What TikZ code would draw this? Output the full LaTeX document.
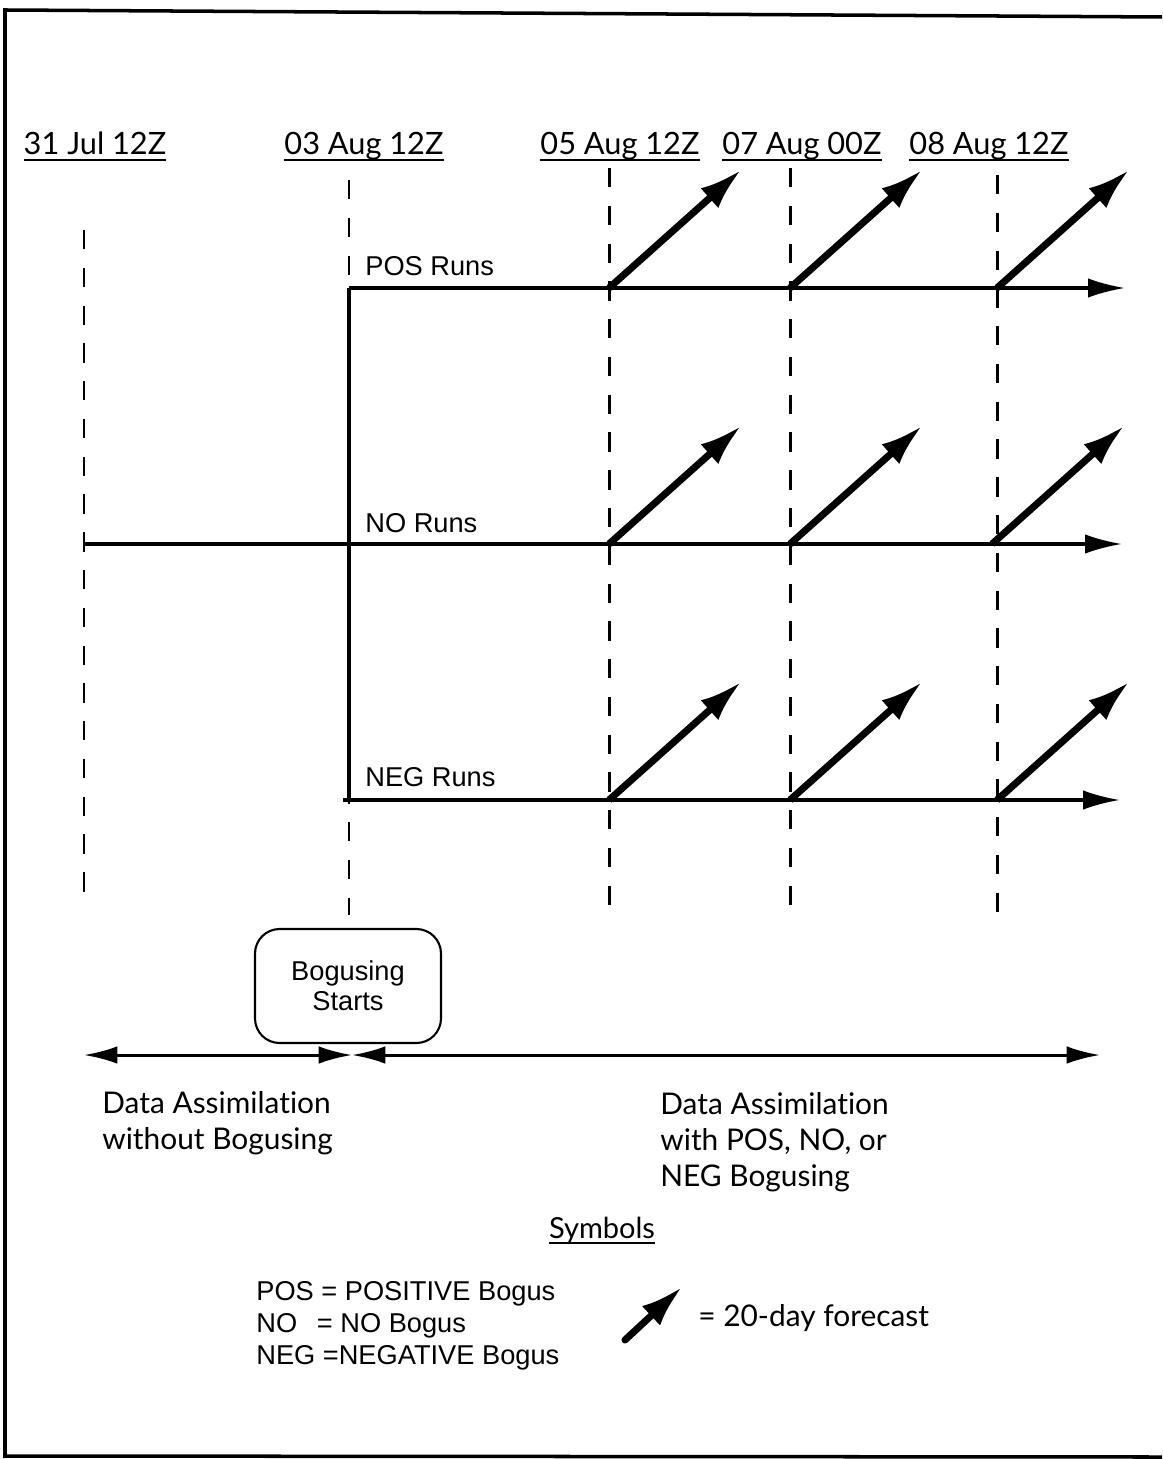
\documentclass[tikz,border=0pt]{standalone}
\usepackage{fontspec}
\setmainfont{Liberation Sans}
\newfontfamily\labfont[Ligatures=NoCommon]{Lato}
\usetikzlibrary{arrows.meta, positioning}

\newsavebox\undlbox
\newcommand{\undl}[1]{\sbox\undlbox{#1}\rlap{\rule[-3.6pt]{\wd\undlbox}{1.5pt}}\usebox\undlbox}

\begin{document}
\begin{tikzpicture}[x=0.02cm, y=-0.02cm,
    run/.style={anchor=base west, inner sep=0pt, font=\fontsize{15.5}{18}\selectfont},
    datelab/.style={anchor=base, inner sep=0pt, font=\labfont\fontsize{17.5}{20}\selectfont},
    assim/.style={anchor=base west, inner sep=0pt, align=left, font=\labfont\fontsize{17}{20.4}\selectfont},
    marker/.style={line width=1.7pt, dash pattern=on 11pt off 10.5pt},
    timeline/.style={line width=1.8pt, -{Latex[length=21pt,width=11pt]}},
    period/.style={line width=1.7pt, {Latex[length=19pt,width=10pt]}-{Latex[length=19pt,width=10pt]}},
    fcast/.style={line width=4pt, -{Latex[length=24pt,width=15pt]}}]

\useasboundingbox (0,0) rectangle (1162,1459);
%\draw[step=50,color=gray!40] (0,0) grid (1162,1459);

% frame
\draw[line width=2pt] (1162,17) -- (5,10) -- (5,1456) -- (1162,1457);

% dates and their dashed markers
	\foreach \n/\x/\lx/\top/\bot/\txt in {1/84/95/230/900/31 Jul 12Z, 2/349/364/180/915/03 Aug 12Z,
			3/609/620/168/920/05 Aug 12Z, 4/790/802/168/920/07 Aug 00Z, 5/997/989/175/915/08 Aug 12Z}
	{
		\node[datelab] (d\n) at (\lx,155) {\undl{\txt}};
		\coordinate (top\n) at (\x,\top);
		\coordinate (bot\n) at (\x,\bot);
		\draw[marker] (top\n) -- (bot\n);
	}

% runs
\coordinate (pos0) at (349,288);
\coordinate (posE) at (1125,288);
\coordinate (no0) at (84,544);
\coordinate (noE) at (1122,544);
\coordinate (neg0) at (343,800);
\coordinate (negE) at (1120,800);
\coordinate (negV) at (349,800);

\draw[timeline] (pos0) -- (posE);
\draw[timeline] (no0) -- (noE);
\draw[timeline] (neg0) -- (negE);
\draw[line width=2.3pt] (pos0) -- (negV);

\node[run] (posrun) at (365,276) {POS Runs};
\node[run] (norun) at (365,532) {NO Runs};
\node[run] (negrun) at (365,786) {NEG Runs};

% 20-day forecasts
	\foreach \i/\x/\y in {1/609/288, 2/790/288, 3/997/288, 4/609/544, 5/790/544, 6/992/544,
			7/609/800, 8/790/800, 9/997/800}
	{
		\coordinate (fs\i) at (\x,\y);
		\coordinate (fe\i) at (\x+132,\y-118);
		\draw[fcast] (fs\i) -- (fe\i);
	}

% bogusing box
\node[draw, line width=1.2pt, rounded corners=14pt, minimum width=186*0.02cm, minimum height=114*0.02cm,
	align=center, font=\fontsize{15.5}{17}\selectfont] (bogus) at (348,986) {Bogusing\\Starts};

% assimilation periods
\coordinate (da0) at (84,1055);
\coordinate (dam) at (352,1055);
\coordinate (da1) at (1100,1055);
\draw[period] (da0) -- (dam);
\draw[period] (dam) -- (da1);

\node[assim] (nobogus) at (102,1149) {Data Assimilation\\without Bogusing};
\node[assim] (withbogus) at (660,1186) {Data Assimilation\\with POS, NO, or\\NEG Bogusing};

% symbols
\node[datelab, font=\labfont\fontsize{16.5}{20}\selectfont] (symb) at (602,1238) {\undl{Symbols}};
\node[anchor=base west, inner sep=0pt, align=left, font=\fontsize{15.5}{18}\selectfont] (legend) at (256,1364)
	{POS = POSITIVE Bogus\\NO \ \,= NO Bogus\\NEG =NEGATIVE Bogus};
\coordinate (ls) at (625,1340);
\coordinate (le) at (682,1287);
\draw[fcast, line cap=round] (ls) -- (le);
\node[anchor=base west, inner sep=0pt, font=\labfont\fontsize{17}{20}\selectfont] (fclab) at (698,1326) {= 20-day forecast};

\end{tikzpicture}
\end{document}
